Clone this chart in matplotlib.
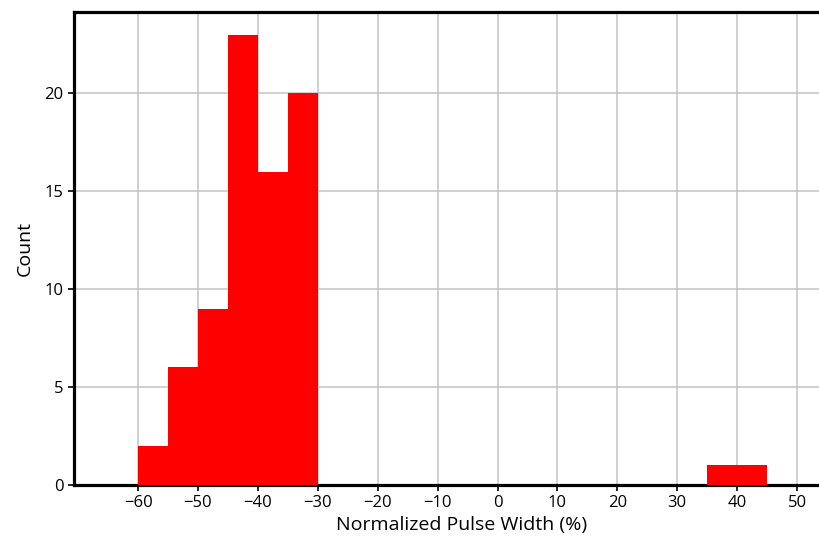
import numpy as np
import matplotlib.pyplot as plt

plt.rcParams['font.family'] = ['Open Sans', 'DejaVu Sans']

# histogram bins (5 % wide) and counts
bin_edges = [-60, -55, -50, -45, -40, -35, -30, -25, -20, -15, -10, -5, 0,
             5, 10, 15, 20, 25, 30, 35, 40, 45]
counts = [2, 6, 9, 23, 16, 20, 0, 0, 0, 0, 0, 0, 0, 0, 0, 0, 0, 0, 0, 1, 1]
x_ticks = [-60, -50, -40, -30, -20, -10, 0, 10, 20, 30, 40, 50]
y_ticks = [0, 5, 10, 15, 20]

fig = plt.figure(figsize=(8.2, 5.46), dpi=100)
ax = fig.add_axes([0.0902, 0.1117, 0.9462, 0.8663])

ax.hist(bin_edges[:-1], bins=bin_edges, weights=counts, color='red',
        zorder=3)

ax.set_xlim(-70.7, 58.8)
ax.set_ylim(0, 24.15)
ax.set_xticks(x_ticks)
ax.set_yticks(y_ticks)
ax.grid(True, color='#c4c4c4', linewidth=1.1, zorder=0)
ax.set_axisbelow(True)

for s in ax.spines.values():
    s.set_linewidth(2.3)
    s.set_color('black')

ax.tick_params(labelsize=12, length=4, width=1.2)
ax.set_xlabel('Normalized Pulse Width (%)', fontsize=14, labelpad=3)
ax.set_ylabel('Count', fontsize=14, labelpad=8)

fig.savefig('out.png', dpi=100)
